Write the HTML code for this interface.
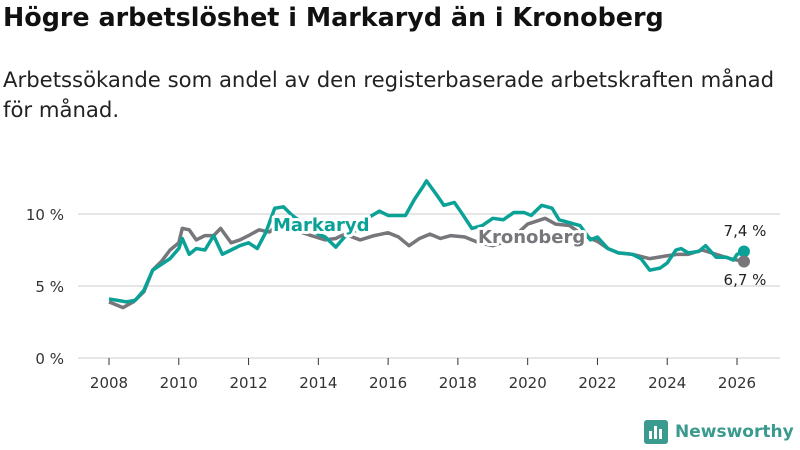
<!DOCTYPE html>
<html><head><meta charset="utf-8"><style>
body{margin:0;width:800px;height:450px;background:#fff;font-family:"DejaVu Sans","Liberation Sans",sans-serif;overflow:hidden;position:relative}
h1{position:absolute;left:3px;top:2px;margin:0;font-size:25.4px;font-weight:bold;color:#111;white-space:nowrap}
.sub{position:absolute;left:3px;top:65px;margin:0;font-size:21.2px;line-height:30px;color:#222;width:792px}
svg{position:absolute;left:0;top:0}
</style></head><body>
<h1>Högre arbetslöshet i Markaryd än i Kronoberg</h1>
<p class="sub">Arbetssökande som andel av den registerbaserade arbetskraften månad<br>för månad.</p>
<svg id="c" width="800" height="450"></svg>
<script>
const yTicks=[0,5,10];
const yTickLabels=["0 %","5 %","10 %"];
const xTicks=[2008,2010,2012,2014,2016,2018,2020,2022,2024,2026];
const markYears=[2008,2008.5,2008.75,2009,2009.25,2009.5,2009.75,2010,2010.1,2010.3,2010.5,2010.75,2011,2011.25,2011.5,2011.75,2012,2012.25,2012.5,2012.75,2013,2013.25,2013.6,2014,2014.2,2014.5,2014.75,2015.1,2015.4,2015.75,2016,2016.5,2016.75,2017,2017.1,2017.4,2017.6,2017.9,2018.1,2018.4,2018.7,2019,2019.3,2019.6,2019.9,2020.1,2020.4,2020.7,2020.9,2021.2,2021.5,2021.8,2022,2022.3,2022.6,2023,2023.25,2023.5,2023.8,2024,2024.25,2024.4,2024.6,2024.9,2025.1,2025.4,2025.7,2025.9,2026,2026.2];
const markaryd=[4.1,3.9,4.0,4.7,6.1,6.5,6.9,7.6,8.3,7.2,7.6,7.5,8.5,7.2,7.5,7.8,8.0,7.6,8.75,10.4,10.5,9.9,9.3,8.6,8.4,7.7,8.4,8.9,9.7,10.2,9.9,9.9,11.0,11.9,12.3,11.3,10.6,10.8,10.1,9.0,9.2,9.7,9.6,10.1,10.1,9.9,10.6,10.4,9.6,9.4,9.2,8.2,8.4,7.6,7.3,7.2,6.9,6.1,6.25,6.6,7.5,7.6,7.3,7.4,7.8,7.0,7.0,6.8,7.2,7.4];
const kronYears=[2008,2008.4,2008.7,2009,2009.25,2009.5,2009.75,2010,2010.1,2010.3,2010.5,2010.75,2011,2011.2,2011.5,2011.75,2012,2012.3,2012.6,2012.8,2013.3,2013.8,2014.2,2014.5,2014.75,2015.2,2015.6,2016,2016.3,2016.6,2016.9,2017.2,2017.5,2017.8,2018.2,2018.6,2019,2019.5,2020,2020.5,2020.8,2021.2,2021.6,2022,2022.3,2022.6,2023,2023.5,2024,2024.3,2024.6,2025,2025.4,2025.8,2026.2];
const kronoberg=[3.9,3.5,3.9,4.6,6.1,6.7,7.5,8.0,9.0,8.9,8.2,8.5,8.5,9.0,8.0,8.2,8.5,8.9,8.75,9.2,8.9,8.5,8.2,8.3,8.6,8.2,8.5,8.7,8.4,7.8,8.3,8.6,8.3,8.5,8.4,8.0,7.8,8.2,9.3,9.7,9.3,9.2,8.5,8.1,7.6,7.3,7.2,6.9,7.1,7.2,7.2,7.5,7.2,6.9,6.7];
const NS="http://www.w3.org/2000/svg",svg=document.getElementById('c');
const X=y=>109+(y-2008)*(737-109)/18, Y=v=>358-v*14.4;
function mk(t,a){const e=document.createElementNS(NS,t);for(const k in a)e.setAttribute(k,a[k]);svg.appendChild(e);return e;}
yTicks.forEach((t,i)=>{
 const l=mk('line',{x1:78,x2:780,y1:Y(t),y2:Y(t),stroke:'#ddd','stroke-width':1.5});
 
 
 const tx=mk('text',{x:64,y:Y(t)+6,'text-anchor':'end','font-size':15,fill:'#333'});tx.textContent=yTickLabels[i];
 
 
});
xTicks.forEach(t=>{
 const tk=mk('line',{x1:X(t),x2:X(t),y1:358,y2:365,stroke:'#333','stroke-width':1});
 
 
 const tx=mk('text',{x:X(t),y:388,'text-anchor':'middle','font-size':15,fill:'#333'});tx.textContent=t;
 
 
});
function line(xs,vs,col,name){
 const p=mk('polyline',{points:xs.map((x,i)=>X(x)+','+Y(vs[i])).join(' '),fill:'none',stroke:col,'stroke-width':3.5,'stroke-linejoin':'round'});
 
 
}
line(kronYears,kronoberg,'#77767b','kronoberg-line');
line(markYears,markaryd,'#0aa297','markaryd-line');
function lbl(x,y,t,col,name){const e=mk('text',{x:x,y:y,'font-size':18,'font-weight':'bold',fill:col,stroke:'#fff','stroke-width':6,'paint-order':'stroke','stroke-linejoin':'round'});e.textContent=t;
 
 }
lbl(273,231,'Markaryd','#0aa297','markaryd-label');
lbl(478,243,'Kronoberg','#77767b','kronoberg-label');
const lm=markaryd.length-1,lk=kronoberg.length-1;
const d1=mk('circle',{cx:X(markYears[lm]),cy:Y(markaryd[lm]),r:6,fill:'#0aa297'});

const d2=mk('circle',{cx:X(kronYears[lk]),cy:Y(kronoberg[lk]),r:6,fill:'#77767b'});

const v1=mk('text',{x:745,y:236,'text-anchor':'middle','font-size':15,fill:'#222'});v1.textContent='7,4 %';

const v2=mk('text',{x:745,y:285,'text-anchor':'middle','font-size':15,fill:'#222'});v2.textContent='6,7 %';

</script>
<div style="position:absolute;left:644px;top:420px;display:flex;align-items:center">
 <div style="width:24px;height:24px;background:#3a9a8e;border-radius:3px;position:relative;margin-right:7px">
  <div style="position:absolute;left:5px;bottom:5px;width:3px;height:8px;background:#fff"></div>
  <div style="position:absolute;left:10px;bottom:5px;width:3px;height:13px;background:#fff"></div>
  <div style="position:absolute;left:15px;bottom:5px;width:3px;height:10px;background:#fff"></div>
 </div>
 <span style="font-size:17px;font-weight:bold;color:#3a9a8e">Newsworthy</span>
</div>
</body></html>
